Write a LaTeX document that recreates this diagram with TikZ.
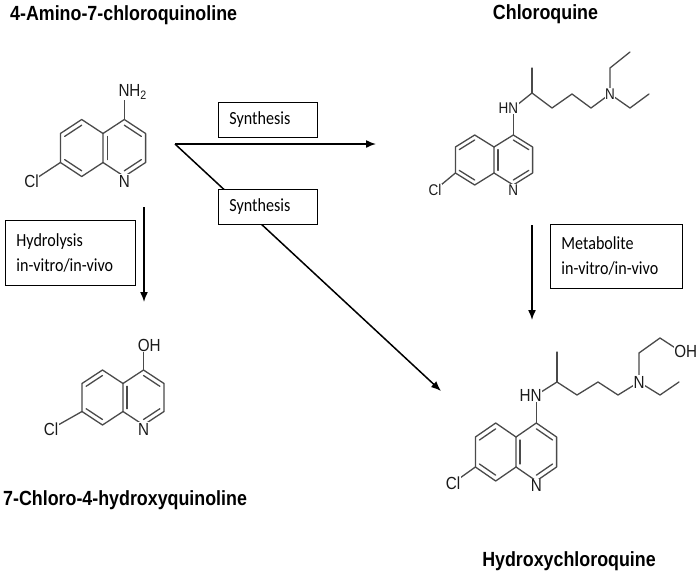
\documentclass[tikz,border=0pt]{standalone}
\usepackage{fontspec}
\usetikzlibrary{arrows.meta,calc}
\newfontfamily\ttlfont[FakeStretch=0.87]{Liberation Sans}
\newfontfamily\atomfont[FakeStretch=0.87]{Liberation Sans}
\newfontfamily\boxfont[FakeStretch=0.87]{Carlito}
\definecolor{bondgray}{HTML}{4A4A4A}
\definecolor{atomgray}{HTML}{1A1A1A}
\tikzset{
  bond/.style={draw=bondgray, line width=1.3pt, line cap=round, line join=round},
  atom/.style={font=\atomfont\fontsize{17.5}{20}\selectfont, text=atomgray, fill=white, inner sep=0.5pt},
  smallatom/.style={atom, font=\atomfont\fontsize{15.5}{18}\selectfont},
  title/.style={font=\ttlfont\bfseries\fontsize{20.5}{24}\selectfont, inner sep=0pt},
  labelbox/.style={draw=black, line width=0.8pt, fill=white, font=\boxfont\fontsize{18.5}{25}\selectfont, align=left, inner xsep=11pt, inner ysep=0pt},
  reaction/.style={line width=1.5pt, -{Latex[length=10pt,width=8pt]}},
}
% quinoline: prefix, cx, cy, half ring width, half side edge, top offset
\newcommand{\quin}[6]{%
  \begin{scope}[shift={(#2,#3)}]
    \coordinate (#1A) at (0,-#5);
    \coordinate (#1B) at (0,#5);
    \coordinate (#1C4) at (#4,-#5-#6);
    \coordinate (#1C3) at (2*#4,-#5);
    \coordinate (#1C2) at (2*#4,#5);
    \coordinate (#1N) at (#4,#5+#6);
    \coordinate (#1C5) at (-#4,-#5-#6);
    \coordinate (#1C6) at (-2*#4,-#5);
    \coordinate (#1C7) at (-2*#4,#5);
    \coordinate (#1C8) at (-#4,#5+#6);
    \coordinate (#1R) at (#4,0);
    \coordinate (#1L) at (-#4,0);
  \end{scope}
  \draw[bond] (#1A)--(#1C4)--(#1C3)--(#1C2)--(#1N)--(#1B)--cycle;
  \draw[bond] (#1A)--(#1C5)--(#1C6)--(#1C7)--(#1C8)--(#1B);
  \draw[bond] ($(#1C4)!.2!(#1R)$)--($(#1C3)!.2!(#1R)$);
  \draw[bond] ($(#1C2)!.2!(#1R)$)--($(#1N)!.2!(#1R)$);
  \draw[bond] ($(#1A)!.2!(#1R)$)--($(#1B)!.2!(#1R)$);
  \draw[bond] ($(#1C5)!.2!(#1L)$)--($(#1C6)!.2!(#1L)$);
  \draw[bond] ($(#1C7)!.2!(#1L)$)--($(#1C8)!.2!(#1L)$);
}
\begin{document}
\begin{tikzpicture}[x=1pt,y=-1pt]
\useasboundingbox[fill=white] (0,0) rectangle (699,571);

% ---------- titles
\node[title, anchor=base west] (t1) at (10,20) {4-Amino-7-chloroquinoline};
\node[title, anchor=base] (t2) at (545.5,19.5) {Chloroquine};
\node[title, anchor=base west] (t3) at (3,505) {7-Chloro-4-hydroxyquinoline};
\node[title, anchor=base] (t4) at (569,566) {Hydroxychloroquine};

% ---------- reaction arrows
\coordinate (J) at (175,144);
\coordinate (tipA) at (376,144);
\coordinate (tipB) at (441,391);
\coordinate (hyA) at (144,207);
\coordinate (hyB) at (144,302);
\coordinate (meA) at (532,225);
\coordinate (meB) at (532,320);
\draw[reaction] (J) -- (tipA);
\draw[reaction] (J) -- (tipB);
\draw[reaction] (hyA) -- (hyB);
\draw[reaction] (meA) -- (meB);

% ---------- boxes
\node[labelbox, text width=77pt, minimum height=35pt, anchor=north west] (syn1) at (218,102) {Synthesis};
\node[labelbox, text width=77pt, minimum height=35pt, anchor=north west] (syn2) at (218,189) {Synthesis};
\node[labelbox, text width=108pt, minimum height=65pt, anchor=north west] (hyd) at (5,220) {Hydrolysis\\in-vitro/in-vivo};
\node[labelbox, text width=110pt, minimum height=64pt, anchor=north west] (met) at (550,224) {Metabolite\\in-vitro/in-vivo};

% ---------- 4-amino-7-chloroquinoline
\quin{m}{103}{148}{21.3}{14.5}{14}
\coordinate (mNH) at (124.3,90);
\coordinate (mCl) at (31.5,181.5);
\draw[bond] (mC4) -- (mNH);
\draw[bond] (mC7) -- (mCl);
\node[atom] (mClL) at (mCl) {Cl};
\node[atom] (mNL) at ($(mN)+(0,4.5)$) {N};
\node[atom, anchor=base west] (mNHL) at (117.8,96.5) {NH\textsubscript{2}};

% ---------- 7-chloro-4-hydroxyquinoline
\quin{h}{123}{397.5}{20.5}{14}{13.5}
\coordinate (hO) at (143.5,345);
\coordinate (hCl) at (51,429);
\draw[bond] (hC4) -- (hO);
\draw[bond] (hC7) -- (hCl);
\node[atom] (hClL) at (hCl) {Cl};
\node[atom] (hNL) at ($(hN)+(0,4)$) {N};
\node[atom, anchor=west] (hOL) at (137.1,345) {OH};

% ---------- chloroquine
\quin{c}{494}{160}{19.3}{13}{12}
\coordinate (cHN) at (513.3,108);
\coordinate (cCH) at (532,93);
\coordinate (cM) at (532,68);
\coordinate (cC1) at (552,108);
\coordinate (cC2) at (572,94);
\coordinate (cC3) at (591,108);
\coordinate (cNa) at (610,94);
\coordinate (cE1) at (610,68);
\coordinate (cE2) at (630,52);
\coordinate (cE3) at (630,108);
\coordinate (cE4) at (649,94);
\coordinate (cCl) at (435,190);
\draw[bond] (cC4) -- (cHN);
\draw[bond] (cHN) -- (cCH) -- (cC1) -- (cC2) -- (cC3) -- (cNa);
\draw[bond] (cCH) -- (cM);
\draw[bond] (cNa) -- (cE1) -- (cE2);
\draw[bond] (cNa) -- (cE3) -- (cE4);
\draw[bond] (cC7) -- (cCl);
\node[smallatom] (cClL) at (cCl) {Cl};
\node[smallatom] (cNL) at ($(cN)+(0,5)$) {N};
\node[smallatom, anchor=east] (cHNL) at (518.8,108) {HN};
\node[smallatom] (cNaL) at (cNa) {N};

% ---------- hydroxychloroquine
\quin{q}{516}{452}{20.3}{15}{14}
\coordinate (qHN) at (536.3,395);
\coordinate (qCH) at (557,382);
\coordinate (qM) at (557,352);
\coordinate (qC1) at (577,395);
\coordinate (qC2) at (598,382);
\coordinate (qC3) at (618,395);
\coordinate (qNa) at (639,382);
\coordinate (qU1) at (639,353);
\coordinate (qU2) at (660,338);
\coordinate (qO) at (680,351);
\coordinate (qL1) at (660,395);
\coordinate (qL2) at (679,382);
\coordinate (qCl) at (453,483);
\draw[bond] (qC4) -- (qHN);
\draw[bond] (qHN) -- (qCH) -- (qC1) -- (qC2) -- (qC3) -- (qNa);
\draw[bond] (qCH) -- (qM);
\draw[bond] (qNa) -- (qU1) -- (qU2) -- (qO);
\draw[bond] (qNa) -- (qL1) -- (qL2);
\draw[bond] (qC7) -- (qCl);
\node[atom] (qClL) at (qCl) {Cl};
\node[atom] (qNL) at ($(qN)+(0,4.5)$) {N};
\node[atom, anchor=east] (qHNL) at (542.3,395) {HN};
\node[atom] (qNaL) at (qNa) {N};
\node[atom, anchor=west] (qOL) at (673.6,351) {OH};
\end{tikzpicture}
\end{document}
